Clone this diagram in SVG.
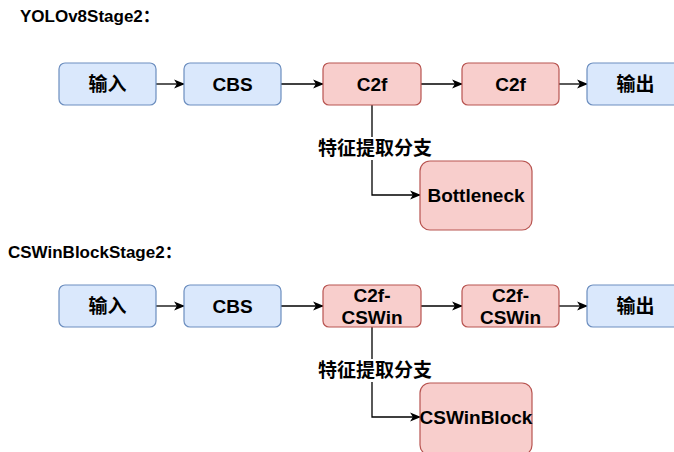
<svg xmlns="http://www.w3.org/2000/svg" width="674" height="452" viewBox="0 0 674 452">
<defs>
<marker id="arr" viewBox="0 0 10 10" refX="9" refY="5" markerWidth="11" markerHeight="11" markerUnits="userSpaceOnUse" orient="auto">
<path d="M0,1 L10,5 L0,9 L2.5,5 Z" fill="#000"/>
</marker>
<style>
.t{font-family:"Liberation Sans",Arial,"Noto Sans CJK SC",sans-serif;font-weight:bold;fill:#000}
.lbl{font-size:19px;text-anchor:middle;dominant-baseline:central}
.ttl{font-size:17px}
.blue{fill:#dae8fc;stroke:#6c8ebf;stroke-width:1.2}
.red{fill:#f8cecc;stroke:#b85450;stroke-width:1.2}
.ln{fill:none;stroke:#000;stroke-width:1.3;marker-end:url(#arr)}
</style>
</defs>
<rect width="674" height="452" fill="#fff"/>
<text class="t ttl" x="20" y="22">YOLOv8Stage2：</text>
<text class="t ttl" x="8" y="258">CSWinBlockStage2：</text>

<g id="connectors">
<path class="ln" d="M156,84 H184"/>
<path class="ln" d="M281,84 H323"/>
<path class="ln" d="M421,84 H462"/>
<path class="ln" d="M559,84 H587"/>
<path class="ln" d="M372,105 V195 H420"/>
<path class="ln" d="M156,306 H184"/>
<path class="ln" d="M281,306 H323"/>
<path class="ln" d="M421,306 H462"/>
<path class="ln" d="M559,306 H587"/>
<path class="ln" d="M372,327 V417 H420"/>
<rect x="316" y="137" width="118" height="23" fill="#fff"/>
<text class="t lbl" x="375" y="148">特征提取分支</text>
<rect x="316" y="359" width="118" height="23" fill="#fff"/>
<text class="t lbl" x="375" y="370">特征提取分支</text>
</g>

<g id="in1"><rect class="blue" x="59" y="63" width="97" height="42" rx="6"/><text class="t lbl" x="107.5" y="84">输入</text></g>
<g id="cbs1"><rect class="blue" x="184" y="63" width="97" height="42" rx="6"/><text class="t lbl" x="232.5" y="84">CBS</text></g>
<g id="c2f1"><rect class="red" x="323" y="63" width="98" height="42" rx="6"/><text class="t lbl" x="372" y="84">C2f</text></g>
<g id="c2f2"><rect class="red" x="462" y="63" width="97" height="42" rx="6"/><text class="t lbl" x="510.5" y="84">C2f</text></g>
<g id="out1"><rect class="blue" x="587" y="63" width="97" height="42" rx="6"/><text class="t lbl" x="635.5" y="84">输出</text></g>
<g id="bottleneck"><rect class="red" x="420" y="161" width="112" height="69" rx="10"/><text class="t lbl" x="476" y="195">Bottleneck</text></g>

<g id="in2"><rect class="blue" x="59" y="285" width="97" height="42" rx="6"/><text class="t lbl" x="107.5" y="306">输入</text></g>
<g id="cbs2"><rect class="blue" x="184" y="285" width="97" height="42" rx="6"/><text class="t lbl" x="232.5" y="306">CBS</text></g>
<g id="c2fcs1"><rect class="red" x="323" y="285" width="98" height="42" rx="6"/><text class="t lbl" x="372" y="295">C2f-</text><text class="t lbl" x="372" y="317">CSWin</text></g>
<g id="c2fcs2"><rect class="red" x="462" y="285" width="97" height="42" rx="6"/><text class="t lbl" x="510.5" y="295">C2f-</text><text class="t lbl" x="510.5" y="317">CSWin</text></g>
<g id="out2"><rect class="blue" x="587" y="285" width="97" height="42" rx="6"/><text class="t lbl" x="635.5" y="306">输出</text></g>
<g id="cswinblock"><rect class="red" x="420" y="383" width="112" height="72" rx="10"/><text class="t lbl" x="476" y="417">CSWinBlock</text></g>
</svg>
